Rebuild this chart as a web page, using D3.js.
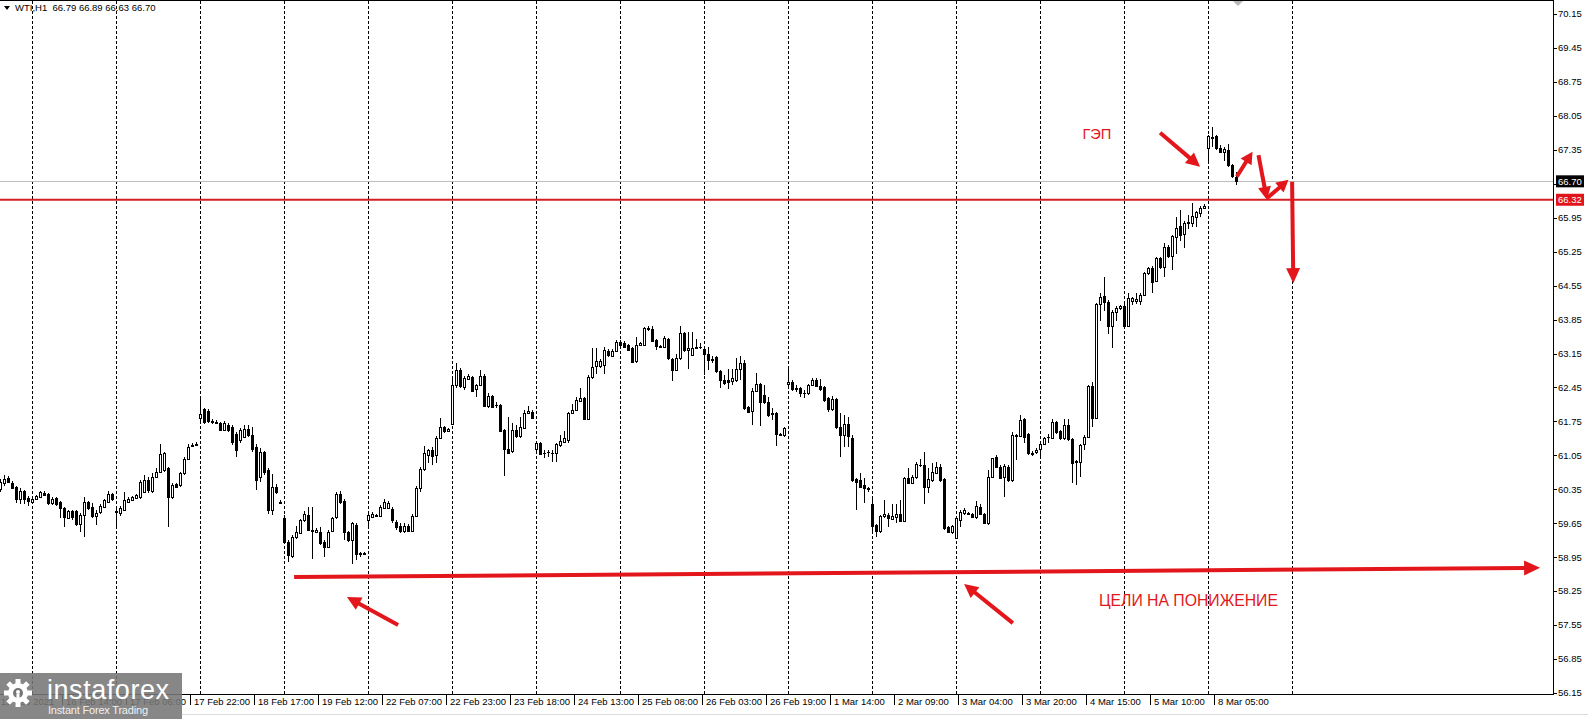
<!DOCTYPE html>
<html>
<head>
<meta charset="utf-8">
<script src="https://cdn.jsdelivr.net/npm/d3@7"></script>
<style>
  body { margin: 0; background: #fff; }
  svg { display: block; font-family: "Liberation Sans", Arial, sans-serif; }
</style>
</head>
<body>
<div id="chart"></div>
<script type="text/javascript">
  const width = 1588,
    height = 719,
    plotRight = 1553,
    plotBottom = 694;

  // header of the chart window
  const symbol = "WTI,H1";
  const headerOHLC = ["66.79", "66.89", "66.63", "66.70"];

  // time axis: label text and the bar it is attached to
  const timeLabels = ["15 Feb 2021", "16 Feb 14:00", "17 Feb 06:00", "17 Feb 22:00", "18 Feb 17:00",
    "19 Feb 12:00", "22 Feb 07:00", "22 Feb 23:00", "23 Feb 18:00", "24 Feb 13:00", "25 Feb 08:00",
    "26 Feb 03:00", "26 Feb 19:00", "1 Mar 14:00", "2 Mar 09:00", "3 Mar 04:00", "3 Mar 20:00",
    "4 Mar 15:00", "5 Mar 10:00", "8 Mar 05:00"];
  const labelBars = [0, 16, 32, 48, 64, 80, 96, 112, 128, 144, 160, 176, 192, 208, 224, 240, 256, 272, 288, 304];

  // vertical grid (bar index)
  const gridBars = [8, 29, 50, 71, 92, 113, 134, 155, 176, 197, 218, 239, 260, 281, 302, 323];

  // price axis
  const priceTicks = [70.15, 69.45, 68.75, 68.05, 67.35, 66.65, 65.95, 65.25, 64.55, 63.85, 63.15,
    62.45, 61.75, 61.05, 60.35, 59.65, 58.95, 58.25, 57.55, 56.85, 56.15];
  const bidPrice = 66.70, bidLabel = "66.70";
  const levelPrice = 66.32, levelLabel = "66.32";

  // H1 candles [open, high, low, close]
  const bars = [
    [60.35,60.57,60.30,60.50],[60.47,60.64,60.41,60.57],[60.59,60.63,60.47,60.50],[60.48,60.52,60.35,60.37],
    [60.39,60.41,60.06,60.16],[60.16,60.37,60.04,60.31],[60.31,60.33,60.04,60.14],[60.18,60.21,60.00,60.11],
    [60.09,60.20,60.06,60.16],[60.15,60.24,60.13,60.21],[60.19,60.32,60.17,60.29],[60.28,60.31,60.21,60.23],
    [60.25,60.28,60.02,60.06],[60.06,60.19,60.03,60.16],[60.18,60.20,60.01,60.04],[60.09,60.11,59.75,59.97],
    [59.97,59.99,59.58,59.77],[59.76,59.93,59.73,59.91],[59.90,59.93,59.72,59.77],[59.90,59.92,59.60,59.64],
    [59.63,59.86,59.47,59.83],[59.82,60.19,59.37,60.08],[60.08,60.10,59.93,59.97],[59.99,60.06,59.75,59.80],
    [59.80,59.92,59.61,59.87],[59.88,60.04,59.84,60.00],[59.99,60.16,59.96,60.13],[60.09,60.31,60.06,60.26],
    [60.25,60.28,60.10,60.14],[59.90,59.95,59.58,59.88],[59.87,60.00,59.80,59.97],[59.93,60.30,59.90,60.13],
    [60.09,60.20,60.06,60.16],[60.13,60.22,60.10,60.19],[60.18,60.26,60.15,60.23],[60.19,60.54,60.16,60.50],
    [60.30,60.64,60.27,60.54],[60.54,60.60,60.28,60.33],[60.31,60.68,60.28,60.61],[60.61,60.78,60.58,60.71],
    [60.71,61.29,60.68,61.07],[60.74,61.12,60.70,61.09],[60.78,60.80,59.58,60.19],[60.19,60.47,60.15,60.43],
    [60.45,60.48,60.37,60.40],[60.43,60.71,60.40,60.69],[60.68,61.02,60.65,60.98],[60.98,61.29,60.95,61.23],
    [61.24,61.31,61.22,61.26],[61.27,61.33,61.24,61.29],[61.81,62.26,61.75,61.91],[62.00,62.02,61.70,61.74],
    [61.97,62.00,61.72,61.76],[61.73,61.80,61.70,61.75],[61.72,61.77,61.69,61.73],[61.71,61.74,61.55,61.57],
    [61.58,61.76,61.55,61.71],[61.68,61.72,61.54,61.57],[61.64,61.67,61.26,61.33],[61.50,61.53,61.02,61.16],
    [61.36,61.62,61.30,61.57],[61.43,61.68,61.40,61.60],[61.60,61.67,61.43,61.47],[61.47,61.64,61.12,61.19],
    [61.23,61.28,60.33,60.54],[60.61,61.20,60.50,61.12],[61.12,61.15,60.65,60.71],[60.74,60.78,59.85,59.92],
    [59.92,60.67,59.82,60.40],[60.40,60.45,60.26,60.30],[60.08,60.12,60.04,60.07],[59.75,59.82,59.25,59.27],
    [59.27,59.30,58.85,58.99],[58.97,59.40,58.94,59.37],[59.37,59.59,59.33,59.47],[59.45,59.73,59.42,59.71],
    [59.71,59.91,59.68,59.85],[59.83,59.99,59.48,59.51],[59.52,59.99,58.92,59.50],[59.47,59.56,59.44,59.52],
    [59.47,59.58,59.21,59.25],[59.27,59.30,58.96,59.16],[59.16,59.52,59.13,59.47],[59.49,59.78,59.46,59.75],
    [59.77,60.30,59.74,60.26],[60.26,60.31,60.05,60.08],[60.11,60.14,59.30,59.47],[59.47,59.50,59.26,59.30],
    [59.30,59.68,58.82,59.65],[59.62,59.66,58.89,59.01],[59.03,59.06,58.95,59.02],[59.02,59.05,58.99,59.03],
    [59.71,59.86,59.60,59.81],[59.78,59.88,59.75,59.84],[59.80,59.85,59.78,59.82],[59.80,60.02,59.77,59.99],
    [59.97,60.16,59.94,60.08],[59.97,60.10,59.94,60.07],[59.95,59.98,59.66,59.71],[59.68,59.71,59.52,59.58],
    [59.60,59.65,59.45,59.48],[59.48,59.66,59.44,59.60],[59.60,59.64,59.46,59.50],[59.50,59.85,59.47,59.80],
    [59.80,60.42,59.77,60.37],[60.37,60.80,60.30,60.76],[60.76,61.24,60.73,61.09],[61.06,61.19,60.89,61.16],
    [61.16,61.23,60.85,61.04],[61.06,61.45,60.90,61.41],[61.40,61.81,61.38,61.63],[61.63,61.66,61.52,61.55],
    [61.55,61.61,61.54,61.59],[61.70,62.64,61.68,62.51],[62.50,62.96,62.43,62.81],[62.81,62.85,62.43,62.47],
    [62.45,62.68,62.40,62.65],[62.63,62.72,62.60,62.69],[62.67,62.69,62.35,62.38],[62.41,62.53,62.26,62.50],
    [62.50,62.81,62.47,62.69],[62.69,62.72,62.05,62.07],[62.07,62.33,62.02,62.27],[62.27,62.30,62.02,62.05],
    [62.08,62.16,62.02,62.08],[62.09,62.10,61.54,61.55],[61.57,61.60,60.63,61.19],[61.19,61.85,61.08,61.10],
    [61.13,61.71,61.10,61.57],[61.57,61.68,61.40,61.44],[61.44,61.85,61.40,61.64],[61.62,61.99,61.59,61.93],
    [61.93,62.07,61.90,61.96],[61.95,61.98,61.80,61.83],[61.19,61.33,61.15,61.30],[61.31,61.33,61.05,61.08],
    [61.10,61.16,60.99,61.10],[61.11,61.17,61.02,61.11],[61.10,61.16,60.92,61.10],[61.09,61.31,60.92,61.28],
    [61.26,61.47,61.23,61.35],[61.33,61.55,61.30,61.40],[61.37,61.95,61.30,61.92],[61.92,62.10,61.90,61.99],
    [61.99,62.26,61.96,62.19],[62.17,62.43,62.14,62.24],[62.23,62.26,61.77,61.79],[61.79,62.70,61.77,62.67],
    [62.67,63.26,62.62,62.88],[62.89,63.26,62.73,62.99],[62.89,63.03,62.85,62.99],[62.91,63.29,62.73,63.22],
    [63.21,63.24,63.08,63.11],[63.10,63.24,63.08,63.21],[63.21,63.43,63.18,63.39],[63.39,63.42,63.30,63.33],
    [63.36,63.40,63.26,63.29],[63.33,63.35,63.20,63.22],[63.26,63.29,62.95,62.98],[62.99,63.50,62.96,63.33],
    [63.33,63.38,63.31,63.36],[63.33,63.69,63.30,63.67],[63.67,63.72,63.62,63.65],[63.65,63.72,63.39,63.41],
    [63.43,63.45,63.22,63.31],[63.31,63.33,63.27,63.29],[63.29,63.51,63.26,63.46],[63.44,63.47,63.02,63.05],
    [63.03,63.05,62.59,62.81],[62.81,63.13,62.78,63.05],[63.05,63.72,63.02,63.57],[63.57,63.60,63.19,63.22],
    [63.22,63.60,62.84,63.26],[63.12,63.59,63.10,63.26],[63.26,63.44,63.24,63.28],[63.29,63.37,63.25,63.29],
    [63.24,63.27,62.71,63.14],[63.15,63.29,62.81,63.02],[63.03,63.09,62.95,63.02],[63.07,63.09,62.74,62.78],
    [62.78,62.80,62.43,62.60],[62.60,62.71,62.50,62.55],[62.60,62.84,62.41,62.57],[62.59,62.84,62.50,62.64],
    [62.60,63.05,62.57,62.84],[62.84,63.10,62.60,62.96],[62.96,63.01,61.99,62.02],[62.05,62.07,61.93,61.95],
    [61.96,62.43,61.68,62.38],[62.38,62.74,62.35,62.52],[62.52,62.55,61.66,62.16],[62.29,62.50,62.10,62.14],
    [62.14,62.26,61.85,61.88],[61.92,62.02,61.78,61.90],[61.92,61.95,61.25,61.49],[61.50,61.52,61.45,61.47],
    [61.46,61.64,61.43,61.62],[62.53,62.88,62.43,62.57],[62.57,62.60,62.38,62.41],[62.43,62.50,62.36,62.41],
    [62.43,62.45,62.26,62.33],[62.33,62.40,62.23,62.34],[62.33,62.53,62.30,62.50],[62.50,62.64,62.47,62.60],
    [62.60,62.64,62.45,62.48],[62.48,62.62,62.38,62.41],[62.45,62.47,62.16,62.19],[62.23,62.26,61.95,62.00],
    [62.00,62.27,61.97,62.21],[62.21,62.23,61.60,61.63],[61.63,61.92,61.02,61.47],[61.47,61.88,61.23,61.70],
    [61.70,61.85,61.23,61.44],[61.41,61.47,60.51,60.54],[60.56,60.58,59.92,60.51],[60.54,60.68,60.37,60.40],
    [60.44,60.58,60.07,60.37],[60.37,60.40,60.30,60.35],[60.05,60.20,59.44,59.60],[59.61,59.63,59.37,59.48],
    [59.48,59.82,59.45,59.80],[59.79,60.12,59.76,59.84],[59.83,59.86,59.58,59.75],[59.74,60.05,59.72,59.80],
    [59.77,60.05,59.65,59.84],[59.84,60.13,59.68,59.70],[59.70,60.61,59.67,60.58],[60.59,60.78,60.46,60.49],
    [60.49,60.64,60.46,60.61],[60.60,60.92,60.57,60.87],[60.85,60.97,60.82,60.86],[60.85,61.11,60.05,60.39],
    [60.39,60.78,60.27,60.56],[60.54,60.89,60.51,60.71],[60.69,60.92,60.66,60.80],[60.82,60.87,60.51,60.54],
    [60.56,60.58,59.52,59.55],[59.58,59.60,59.44,59.46],[59.46,59.62,59.43,59.59],[59.34,59.78,59.32,59.75],
    [59.72,59.92,59.58,59.89],[59.87,59.96,59.82,59.92],[59.87,59.89,59.81,59.84],[59.84,59.86,59.75,59.77],
    [59.77,60.10,59.74,60.01],[59.99,60.05,59.82,59.85],[59.85,59.87,59.63,59.66],[59.65,60.75,59.62,60.61],
    [60.61,61.00,60.58,60.99],[61.02,61.05,60.79,60.82],[60.82,60.85,60.56,60.59],[60.60,60.88,60.20,60.84],
    [60.82,60.85,60.50,60.54],[60.54,61.54,60.50,61.47],[61.45,61.50,60.95,61.47],[61.45,61.88,61.42,61.78],
    [61.79,61.83,61.30,61.43],[61.49,61.52,61.06,61.10],[61.10,61.13,61.04,61.08],[61.11,61.20,61.08,61.17],
    [61.19,61.31,61.02,61.28],[61.28,61.43,61.26,61.41],[61.42,61.49,61.30,61.43],[61.40,61.79,61.38,61.73],
    [61.73,61.76,61.50,61.54],[61.56,61.58,61.37,61.40],[61.40,61.79,61.37,61.68],[61.68,61.79,61.35,61.38],
    [61.38,61.40,60.47,60.90],[60.93,60.95,60.44,60.91],[60.92,61.28,60.61,61.26],[61.28,61.47,61.17,61.43],
    [61.43,62.50,61.40,62.48],[62.48,62.57,61.63,61.83],[61.81,64.20,61.79,64.18],[64.18,64.40,63.83,64.32],
    [64.34,64.72,64.03,64.22],[64.22,64.25,63.55,63.72],[63.72,64.05,63.27,64.01],[64.01,64.13,63.81,64.08],
    [64.09,64.15,64.05,64.12],[64.12,64.18,63.67,63.72],[63.72,64.39,63.70,64.29],[64.24,64.32,64.15,64.29],
    [64.24,64.39,64.17,64.27],[64.24,64.39,64.14,64.36],[64.36,64.83,64.33,64.80],[64.80,64.94,64.77,64.91],
    [64.92,64.95,64.39,64.63],[64.65,65.14,64.62,65.11],[65.11,65.14,64.90,64.94],[64.94,65.42,64.73,65.35],
    [65.35,65.38,65.12,65.15],[65.15,65.60,64.87,65.57],[65.56,65.96,65.21,65.74],[65.78,66.11,65.46,65.59],
    [65.61,65.88,65.32,65.85],[65.85,66.01,65.71,65.87],[65.85,66.26,65.76,65.98],[65.97,66.09,65.76,66.06],
    [66.05,66.20,65.96,66.16],[66.16,66.23,66.14,66.20],[67.38,67.66,67.07,67.63],[67.60,67.83,67.40,67.62],
    [67.63,67.66,67.35,67.38],[67.38,67.45,67.28,67.31],[67.31,67.40,67.11,67.36],[67.35,67.46,67.00,67.04],
    [67.04,67.06,66.76,66.80],[66.79,66.89,66.63,66.70]
  ];

  // hand drawn marks, in [bar, price]
  const arrows = [
    { from: [73.4, 58.54], to: [384.9, 58.73], head: 16, half: 7.5 },
    { from: [99.4, 57.55], to: [86.6, 58.13], head: 14, half: 7 },
    { from: [253.1, 57.59], to: [240.9, 58.40], head: 14, half: 7 },
    { from: [289.9, 67.70], to: [299.9, 67.00], head: 14, half: 7 },
    { from: [309.1, 66.80], to: [313.0, 67.31], head: 12, half: 6.5 },
    { from: [314.5, 67.24], to: [316.6, 66.32], head: 13, half: 6.5 },
    { from: [316.6, 66.35], to: [322.0, 66.73], head: 12, half: 6.5 },
    { from: [322.9, 66.69], to: [323.2, 64.60], head: 15, half: 7 }
  ];
  const notes = [
    { text: "ГЭП", at: [274.1, 67.68], size: 15, anchor: "middle", len: 29 },
    { text: "ЦЕЛИ НА ПОНИЖЕНИЕ", at: [274.6, 58.06], size: 16.5, anchor: "start", len: 179 }
  ];

  const red = "#e3161b";

  const x = d3.scaleLinear().domain([0, 1]).range([0.5, 4.5]);
  const y = d3.scaleLinear().domain([56.15, 70.15]).range([693, 14]);

  const svg = d3.select("#chart").append("svg")
    .attr("width", width)
    .attr("height", height);

  svg.append("defs").append("clipPath").attr("id", "plot")
    .append("rect").attr("x", 0).attr("y", 1).attr("width", plotRight).attr("height", plotBottom - 1);

  // grid
  svg.append("g")
    .selectAll("line")
    .data(gridBars)
    .enter().append("line")
      .attr("x1", d => x(d)).attr("x2", d => x(d))
      .attr("y1", 1).attr("y2", plotBottom)
      .attr("stroke", "#000")
      .attr("stroke-dasharray", "3,2")
      .attr("shape-rendering", "crispEdges");

  // bid line
  svg.append("line")
    .attr("x1", 0).attr("x2", plotRight)
    .attr("y1", Math.round(y(bidPrice)) + 0.5).attr("y2", Math.round(y(bidPrice)) + 0.5)
    .attr("stroke", "#bdbdbd");

  // candles
  const candles = svg.append("g").attr("clip-path", "url(#plot)");

  candles.selectAll("line")
    .data(bars)
    .enter().append("line")
      .attr("x1", (d, i) => x(i)).attr("x2", (d, i) => x(i))
      .attr("y1", d => y(d[1])).attr("y2", d => y(d[2]))
      .attr("stroke", "#000")
      .attr("shape-rendering", "crispEdges");

  candles.selectAll("rect")
    .data(bars)
    .enter().append("rect")
      .attr("x", (d, i) => x(i) - 1)
      .attr("width", 2)
      .attr("y", d => Math.round(y(Math.max(d[0], d[3]))) + 0.5)
      .attr("height", d => Math.max(0.01, Math.round(y(Math.min(d[0], d[3]))) - Math.round(y(Math.max(d[0], d[3])))))
      .attr("fill", d => d[3] >= d[0] ? "#fff" : "#000")
      .attr("stroke", "#000");

  // level line
  svg.append("line")
    .attr("x1", 0).attr("x2", plotRight)
    .attr("y1", y(levelPrice)).attr("y2", y(levelPrice))
    .attr("stroke", "#d41f22")
    .attr("stroke-width", 2);

  // frame
  svg.append("line").attr("x1", 0).attr("x2", plotRight).attr("y1", 0.5).attr("y2", 0.5).attr("stroke", "#000");
  svg.append("line").attr("x1", 0).attr("x2", plotRight).attr("y1", plotBottom + 0.5).attr("y2", plotBottom + 0.5).attr("stroke", "#000");
  svg.append("line").attr("x1", plotRight + 0.5).attr("x2", plotRight + 0.5).attr("y1", 0).attr("y2", plotBottom + 1).attr("stroke", "#000");
  svg.append("line").attr("x1", 182).attr("x2", width).attr("y1", 714.5).attr("y2", 714.5).attr("stroke", "#dcdcdc");

  // shift marker
  svg.append("path").attr("d", "M1233,1L1243,1L1238,6Z").attr("fill", "#b8b8b8");

  // price axis
  const yAxis = svg.append("g");
  yAxis.selectAll("line")
    .data(priceTicks)
    .enter().append("line")
      .attr("x1", plotRight).attr("x2", plotRight + 4)
      .attr("y1", d => Math.round(y(d)) + 0.5).attr("y2", d => Math.round(y(d)) + 0.5)
      .attr("stroke", "#000");
  yAxis.selectAll("text")
    .data(priceTicks)
    .enter().append("text")
      .attr("x", plotRight + 5)
      .attr("y", d => y(d))
      .attr("dy", "0.35em")
      .attr("font-size", "9.5px")
      .attr("fill", "#000")
      .text(d => d.toFixed(2));

  // price labels of the lines
  [[bidPrice, bidLabel, "#000"], [levelPrice, levelLabel, "#e0141b"]].forEach(function(e) {
    const yy = y(e[0]);
    svg.append("rect")
      .attr("x", plotRight + 3).attr("y", yy - 6)
      .attr("width", 28).attr("height", 12)
      .attr("fill", e[2]);
    svg.append("text")
      .attr("x", plotRight + 5).attr("y", yy)
      .attr("dy", "0.35em")
      .attr("font-size", "9.5px")
      .attr("fill", "#fff")
      .text(e[1]);
  });

  // time axis
  const xAxis = svg.append("g");
  xAxis.selectAll("line")
    .data(labelBars)
    .enter().append("line")
      .attr("x1", d => Math.round(x(d)) - 2.5).attr("x2", d => Math.round(x(d)) - 2.5)
      .attr("y1", plotBottom).attr("y2", plotBottom + 11)
      .attr("stroke", "#000");
  xAxis.selectAll("text")
    .data(labelBars)
    .enter().append("text")
      .attr("x", (d, i) => i === 0 ? 1 : Math.round(x(d)) + 1)
      .attr("y", 705)
      .attr("font-size", "9.5px")
      .attr("fill", "#000")
      .text((d, i) => timeLabels[i]);

  // header
  svg.append("path").attr("d", "M4,6L10,6L7,10Z").attr("fill", "#000");
  svg.append("text")
    .attr("x", 15).attr("y", 11)
    .attr("font-size", "9.5px")
    .attr("fill", "#000")
    .attr("xml:space", "preserve")
    .text(symbol + "  " + headerOHLC.join(" "));

  // annotations
  const marks = svg.append("g");
  arrows.forEach(function(a) {
    const x0 = x(a.from[0]), y0 = y(a.from[1]);
    const x1 = x(a.to[0]), y1 = y(a.to[1]);
    const len = Math.hypot(x1 - x0, y1 - y0);
    const ux = (x1 - x0) / len, uy = (y1 - y0) / len;
    const bx = x1 - ux * a.head, by = y1 - uy * a.head;
    marks.append("line")
      .attr("x1", x0).attr("y1", y0)
      .attr("x2", bx + ux).attr("y2", by + uy)
      .attr("stroke", red)
      .attr("stroke-width", 4);
    marks.append("path")
      .attr("d", "M" + x1 + "," + y1 +
        "L" + (bx - uy * a.half) + "," + (by + ux * a.half) +
        "L" + (bx + uy * a.half) + "," + (by - ux * a.half) + "Z")
      .attr("fill", red);
  });

  marks.selectAll("text")
    .data(notes)
    .enter().append("text")
      .attr("x", d => x(d.at[0]))
      .attr("y", d => y(d.at[1]))
      .attr("dy", "0.35em")
      .attr("text-anchor", d => d.anchor)
      .attr("font-size", d => d.size + "px")
      .attr("textLength", d => d.len)
      .attr("lengthAdjust", "spacingAndGlyphs")
      .attr("fill", red)
      .text(d => d.text);

  // watermark logo
  const logo = svg.append("g").attr("transform", "translate(0,673)");
  logo.append("rect").attr("width", 182).attr("height", 46).attr("fill", "#767676").attr("opacity", 0.88);
  const gear = logo.append("g").attr("transform", "translate(18,20)");
  d3.range(8).forEach(function(k) {
    gear.append("rect")
      .attr("x", -2.5).attr("y", -14).attr("width", 5).attr("height", 6)
      .attr("fill", "#fff")
      .attr("transform", "rotate(" + (k * 45) + ")");
  });
  gear.append("circle").attr("r", 10).attr("fill", "#fff");
  gear.append("circle").attr("r", 5).attr("fill", "#767676");
  gear.append("circle").attr("cy", -1).attr("r", 2).attr("fill", "#fff");
  gear.append("rect").attr("x", -1.5).attr("y", 1).attr("width", 3).attr("height", 12).attr("fill", "#fff");
  logo.append("text")
    .attr("x", 47).attr("y", 26)
    .attr("font-size", "27px")
    .attr("textLength", 122)
    .attr("fill", "#fff")
    .text("instaforex");
  logo.append("text")
    .attr("x", 48).attr("y", 41)
    .attr("font-size", "11px")
    .attr("textLength", 100)
    .attr("fill", "#f0f0f0")
    .text("Instant Forex Trading");
</script>
</body>
</html>
